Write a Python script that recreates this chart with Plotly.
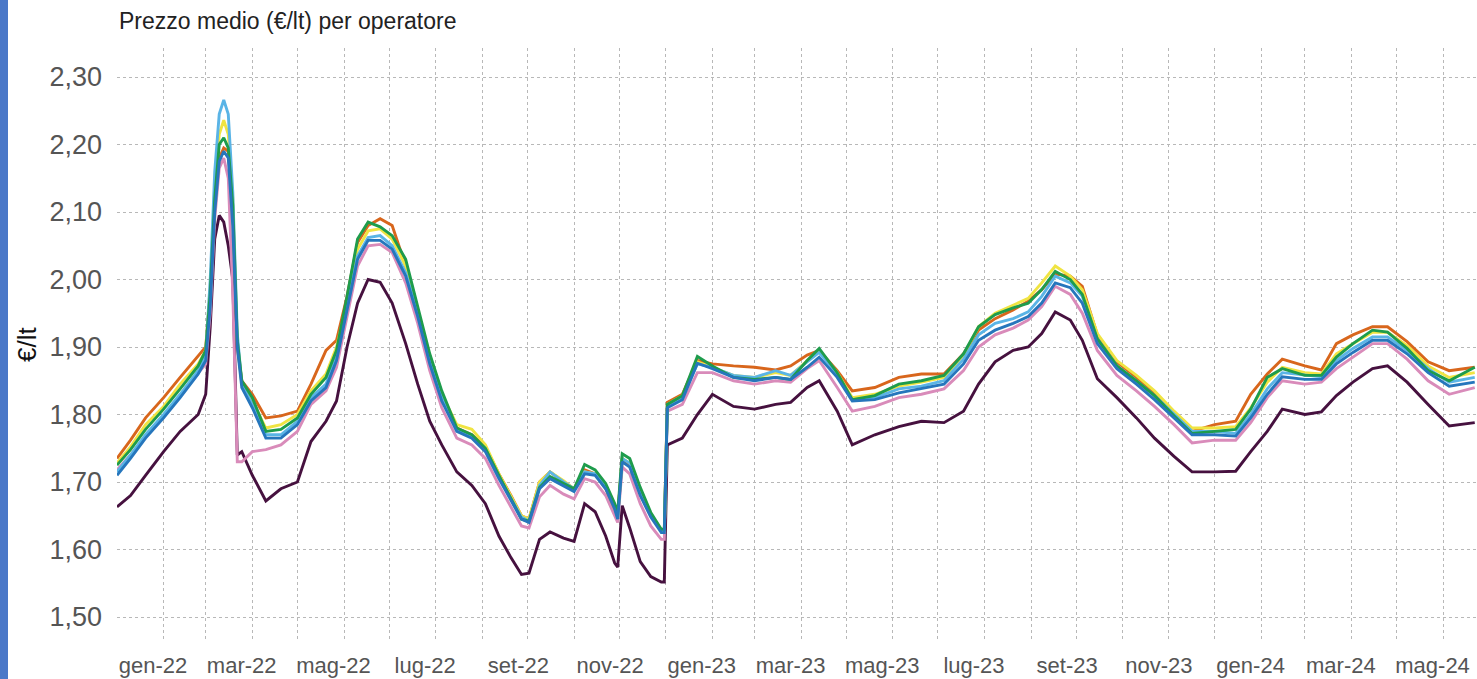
import plotly.graph_objects as go

DATES = [
    "2022-01-01", "2022-01-10", "2022-01-20", "2022-02-01", "2022-02-12", "2022-02-24",
    "2022-03-01", "2022-03-04", "2022-03-07", "2022-03-10", "2022-03-13", "2022-03-16",
    "2022-03-19", "2022-03-22", "2022-03-25", "2022-04-01", "2022-04-10", "2022-04-20",
    "2022-05-01", "2022-05-10", "2022-05-20", "2022-05-27", "2022-06-03", "2022-06-10",
    "2022-06-17", "2022-06-25", "2022-07-03", "2022-07-12", "2022-07-20", "2022-07-28",
    "2022-08-05", "2022-08-15", "2022-08-25", "2022-09-03", "2022-09-12", "2022-09-20",
    "2022-09-27", "2022-10-02", "2022-10-09", "2022-10-16", "2022-10-25", "2022-11-01",
    "2022-11-08", "2022-11-15", "2022-11-22", "2022-11-28", "2022-11-30", "2022-12-03",
    "2022-12-08", "2022-12-15", "2022-12-22", "2022-12-29", "2022-12-31", "2023-01-02",
    "2023-01-12", "2023-01-22", "2023-02-01", "2023-02-15", "2023-03-01", "2023-03-15",
    "2023-03-25", "2023-04-05", "2023-04-13", "2023-04-25", "2023-05-05", "2023-05-20",
    "2023-06-05", "2023-06-20", "2023-07-05", "2023-07-18", "2023-07-28", "2023-08-08",
    "2023-08-20", "2023-08-30", "2023-09-08", "2023-09-17", "2023-09-27", "2023-10-05",
    "2023-10-15", "2023-10-28", "2023-11-10", "2023-11-22", "2023-12-05", "2023-12-17",
    "2024-01-01", "2024-01-15", "2024-01-25", "2024-02-05", "2024-02-15", "2024-03-01",
    "2024-03-12", "2024-03-22", "2024-04-02", "2024-04-15", "2024-04-25", "2024-05-08",
    "2024-05-22", "2024-06-05", "2024-06-22",
]

BLUE = [
    1.710, 1.735, 1.765, 1.795, 1.825, 1.860, 1.880, 1.960, 2.100, 2.175, 2.190, 2.180,
    2.080, 1.900, 1.840, 1.810, 1.765, 1.765, 1.785, 1.820, 1.840, 1.880, 1.955, 2.030,
    2.058, 2.058, 2.045, 2.005, 1.945, 1.875, 1.820, 1.775, 1.765, 1.745, 1.705, 1.672,
    1.645, 1.640, 1.690, 1.705, 1.695, 1.686, 1.712, 1.710, 1.690, 1.660, 1.645, 1.730,
    1.722, 1.680, 1.648, 1.625, 1.625, 1.810, 1.822, 1.876, 1.868, 1.855, 1.850, 1.855,
    1.852, 1.870, 1.885, 1.855, 1.820, 1.822, 1.832, 1.838, 1.845, 1.875, 1.910, 1.925,
    1.935, 1.945, 1.965, 1.995, 1.988, 1.965, 1.905, 1.868, 1.845, 1.822, 1.795, 1.770,
    1.770, 1.768, 1.795, 1.830, 1.856, 1.852, 1.852, 1.875, 1.892, 1.910, 1.910, 1.890,
    1.862, 1.842, 1.848,
]

DARK = [
    1.663, 1.680, 1.710, 1.745, 1.775, 1.800, 1.830, 1.930, 2.060, 2.095, 2.085, 2.050,
    2.000, 1.740, 1.745, 1.710, 1.672, 1.690, 1.700, 1.760, 1.790, 1.820, 1.900, 1.965,
    2.000, 1.996, 1.965, 1.905, 1.845, 1.790, 1.755, 1.715, 1.695, 1.668, 1.620, 1.588,
    1.563, 1.565, 1.615, 1.626, 1.617, 1.612, 1.668, 1.656, 1.620, 1.580, 1.574, 1.665,
    1.632, 1.582, 1.560, 1.552, 1.552, 1.755, 1.765, 1.800, 1.830, 1.812, 1.808, 1.815,
    1.818, 1.840, 1.850, 1.805, 1.755, 1.770, 1.782, 1.790, 1.788, 1.805, 1.845, 1.878,
    1.895, 1.900, 1.920, 1.952, 1.940, 1.910, 1.853, 1.825, 1.795, 1.765, 1.738, 1.715,
    1.715, 1.716, 1.745, 1.775, 1.808, 1.800, 1.804, 1.828, 1.848, 1.868, 1.872, 1.848,
    1.815, 1.783, 1.788,
]

ORANGE = [
    1.735, 1.762, 1.795, 1.825, 1.855, 1.888, 1.900, 1.980, 2.110, 2.180, 2.195, 2.190,
    2.100, 1.900, 1.850, 1.830, 1.795, 1.798, 1.805, 1.845, 1.895, 1.910, 1.975, 2.055,
    2.080, 2.090, 2.080, 2.020, 1.955, 1.880, 1.825, 1.780, 1.770, 1.752, 1.712, 1.680,
    1.650, 1.645, 1.700, 1.715, 1.700, 1.690, 1.718, 1.712, 1.690, 1.660, 1.650, 1.735,
    1.725, 1.682, 1.650, 1.628, 1.628, 1.818, 1.830, 1.880, 1.875, 1.872, 1.870, 1.866,
    1.872, 1.888, 1.895, 1.865, 1.835, 1.840, 1.855, 1.860, 1.860, 1.890, 1.925, 1.942,
    1.955, 1.968, 1.985, 2.008, 2.005, 1.990, 1.918, 1.878, 1.855, 1.832, 1.802, 1.775,
    1.785, 1.790, 1.830, 1.860, 1.882, 1.872, 1.866, 1.905, 1.918, 1.930, 1.930, 1.908,
    1.878, 1.865, 1.870,
]

YELLOW = [
    1.728, 1.752, 1.785, 1.812, 1.845, 1.875, 1.895, 1.990, 2.130, 2.215, 2.236, 2.215,
    2.120, 1.910, 1.845, 1.820, 1.780, 1.785, 1.800, 1.835, 1.860, 1.900, 1.965, 2.045,
    2.072, 2.075, 2.060, 2.020, 1.955, 1.885, 1.830, 1.785, 1.778, 1.755, 1.712, 1.680,
    1.650, 1.645, 1.700, 1.715, 1.702, 1.690, 1.715, 1.712, 1.692, 1.662, 1.650, 1.735,
    1.728, 1.685, 1.652, 1.628, 1.628, 1.815, 1.828, 1.878, 1.870, 1.858, 1.855, 1.862,
    1.858, 1.880, 1.895, 1.862, 1.825, 1.830, 1.842, 1.848, 1.855, 1.888, 1.930, 1.950,
    1.962, 1.972, 1.995, 2.020, 2.005, 1.985, 1.920, 1.880, 1.858, 1.835, 1.805, 1.780,
    1.780, 1.782, 1.810, 1.848, 1.870, 1.862, 1.860, 1.890, 1.905, 1.922, 1.922, 1.902,
    1.872, 1.855, 1.862,
]

SKY = [
    1.715, 1.740, 1.770, 1.800, 1.830, 1.865, 1.890, 2.000, 2.160, 2.245, 2.266, 2.245,
    2.130, 1.920, 1.845, 1.815, 1.770, 1.770, 1.790, 1.825, 1.845, 1.885, 1.960, 2.035,
    2.062, 2.065, 2.050, 2.010, 1.950, 1.880, 1.825, 1.778, 1.768, 1.750, 1.708, 1.675,
    1.648, 1.642, 1.695, 1.715, 1.700, 1.690, 1.715, 1.712, 1.692, 1.662, 1.648, 1.735,
    1.728, 1.685, 1.652, 1.628, 1.628, 1.812, 1.825, 1.875, 1.870, 1.858, 1.855, 1.865,
    1.858, 1.878, 1.892, 1.860, 1.822, 1.825, 1.838, 1.842, 1.850, 1.882, 1.918, 1.935,
    1.942, 1.952, 1.975, 2.005, 1.995, 1.975, 1.912, 1.872, 1.850, 1.828, 1.800, 1.775,
    1.775, 1.772, 1.800, 1.838, 1.862, 1.858, 1.856, 1.880, 1.898, 1.915, 1.915, 1.895,
    1.868, 1.848, 1.855,
]

GREEN = [
    1.725, 1.748, 1.778, 1.808, 1.838, 1.872, 1.895, 1.980, 2.120, 2.200, 2.210, 2.195,
    2.110, 1.910, 1.850, 1.825, 1.775, 1.778, 1.795, 1.830, 1.855, 1.895, 1.975, 2.060,
    2.085, 2.078, 2.065, 2.030, 1.960, 1.890, 1.835, 1.780, 1.770, 1.750, 1.710, 1.675,
    1.645, 1.642, 1.692, 1.708, 1.698, 1.690, 1.726, 1.718, 1.698, 1.668, 1.655, 1.742,
    1.735, 1.692, 1.655, 1.630, 1.630, 1.815, 1.828, 1.886, 1.872, 1.855, 1.852, 1.855,
    1.852, 1.880, 1.898, 1.862, 1.822, 1.828, 1.845, 1.850, 1.858, 1.890, 1.930, 1.948,
    1.958, 1.965, 1.985, 2.012, 2.000, 1.978, 1.912, 1.872, 1.850, 1.828, 1.798, 1.772,
    1.775, 1.778, 1.808, 1.855, 1.868, 1.858, 1.858, 1.885, 1.905, 1.925, 1.922, 1.898,
    1.865, 1.850, 1.870,
]

PINK = [
    1.718, 1.740, 1.768, 1.798, 1.828, 1.860, 1.875, 1.950, 2.090, 2.165, 2.180, 2.150,
    1.980, 1.730, 1.730, 1.745, 1.748, 1.755, 1.775, 1.815, 1.835, 1.870, 1.945, 2.020,
    2.050, 2.052, 2.040, 1.995, 1.935, 1.865, 1.810, 1.765, 1.755, 1.735, 1.695, 1.662,
    1.635, 1.632, 1.678, 1.695, 1.682, 1.675, 1.705, 1.700, 1.680, 1.650, 1.640, 1.722,
    1.712, 1.668, 1.635, 1.615, 1.615, 1.805, 1.815, 1.862, 1.862, 1.850, 1.845, 1.850,
    1.848, 1.868, 1.880, 1.840, 1.805, 1.812, 1.825, 1.830, 1.838, 1.865, 1.900, 1.918,
    1.928, 1.940, 1.960, 1.990, 1.978, 1.950, 1.895, 1.858, 1.835, 1.812, 1.785, 1.758,
    1.762, 1.762, 1.788, 1.825, 1.850, 1.845, 1.848, 1.868, 1.885, 1.905, 1.905, 1.882,
    1.850, 1.830, 1.840,
]

GRID_MONTHS = [
    "2022-01-01", "2022-02-01", "2022-03-01", "2022-04-01", "2022-05-01", "2022-06-01",
    "2022-07-01", "2022-08-01", "2022-09-01", "2022-10-01", "2022-11-01", "2022-12-01",
    "2023-01-01", "2023-02-01", "2023-03-01", "2023-04-01", "2023-05-01", "2023-06-01",
    "2023-07-01", "2023-08-01", "2023-09-01", "2023-10-01", "2023-11-01", "2023-12-01",
    "2024-01-01", "2024-02-01", "2024-03-01", "2024-04-01", "2024-05-01", "2024-06-01",
]
TICK_TEXT = [
    "gen-22", "", "mar-22", "", "mag-22", "", "lug-22", "", "set-22", "", "nov-22", "",
    "gen-23", "", "mar-23", "", "mag-23", "", "lug-23", "", "set-23", "", "nov-23", "",
    "gen-24", "", "mar-24", "", "mag-24", "",
]
Y_TICKS = [1.5, 1.6, 1.7, 1.8, 1.9, 2.0, 2.1, 2.2, 2.3]

SERIES = [
    ("Operatore 7", DARK, "#46113F"),
    ("Operatore 6", PINK, "#D98BBA"),
    ("Operatore 1", ORANGE, "#D8661C"),
    ("Operatore 2", YELLOW, "#F0E442"),
    ("Operatore 3", SKY, "#5AB4E6"),
    ("Operatore 4", GREEN, "#1E9C4C"),
    ("Operatore 5", BLUE, "#2676BC"),
]

FONT = "Liberation Sans, Arial, sans-serif"

fig = go.Figure()
for name, vals, col in SERIES:
    fig.add_trace(go.Scatter(x=DATES, y=vals, mode="lines", name=name,
                             line=dict(color=col, width=2.9), hoverinfo="skip"))

W, H = 1477, 679
ML, MR, MT, MB = 117, 0, 48, 37
pw, ph = W - ML - MR, H - MT - MB

fig.update_layout(
    width=W, height=H,
    margin=dict(l=ML, r=MR, t=MT, b=MB),
    paper_bgcolor="white", plot_bgcolor="white",
    showlegend=False,
    separators=",.",
    font=dict(family=FONT, color="#555555"),
    xaxis=dict(
        type="date",
        range=["2022-01-01", "2024-06-23 12:00"],
        tickmode="array", tickvals=GRID_MONTHS, ticktext=TICK_TEXT,
        showgrid=True, gridcolor="#b8b8b8", griddash="dot", gridwidth=1,
        zeroline=False, showline=False, ticks="",
        tickfont=dict(size=22, color="#555555", family=FONT),
        ticklabelshift=36, ticklabelstandoff=8,
    ),
    yaxis=dict(
        range=[1.463, 2.343],
        tickmode="array", tickvals=Y_TICKS, tickformat=".2f",
        showgrid=True, gridcolor="#b8b8b8", griddash="dot", gridwidth=1,
        zeroline=False, showline=False, ticks="",
        tickfont=dict(size=27, color="#555555", family=FONT),
        ticklabelstandoff=14,
    ),
    shapes=[dict(type="rect", xref="paper", yref="paper",
                 x0=-ML / pw, x1=(8 - ML) / pw, y0=-MB / ph, y1=1 + MT / ph,
                 fillcolor="#4A78C8", line=dict(width=0), layer="above")],
    annotations=[
        dict(text="Prezzo medio (€/lt) per operatore", xref="paper", yref="paper",
             x=0, y=1 + 27 / ph, xanchor="left", yanchor="middle", showarrow=False,
             font=dict(size=23, color="#222222", family=FONT)),
        dict(text="€/lt", xref="paper", yref="paper", x=(27 - ML) / pw, y=0.5,
             xanchor="center", yanchor="middle", textangle=-90, showarrow=False,
             font=dict(size=26, color="#111111", family=FONT)),
    ],
)

fig.write_html("out.html",
               config={"displayModeBar": False},
               post_script="document.body.style.margin='0';document.body.style.overflow='hidden';")
